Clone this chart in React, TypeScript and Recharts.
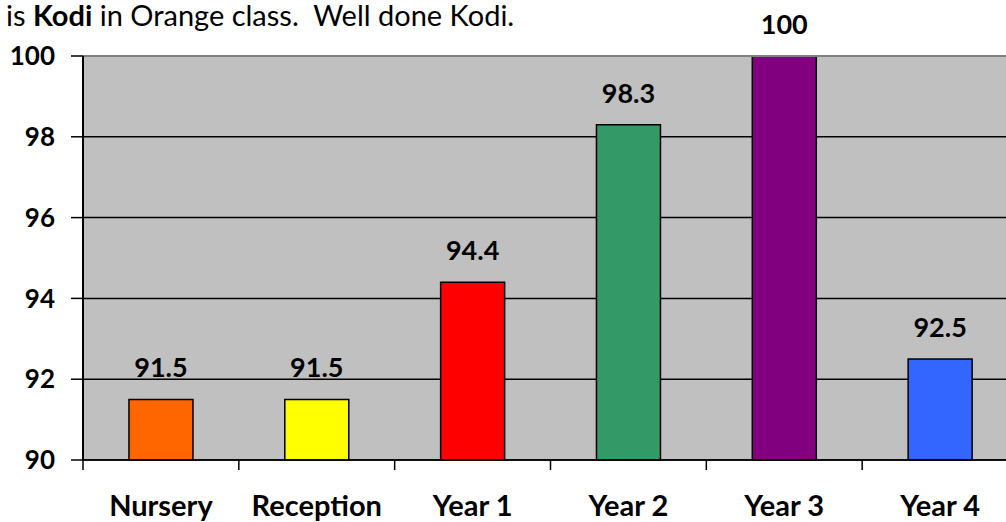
import React from 'react';
import { BarChart, Bar, XAxis, YAxis, CartesianGrid, Cell, LabelList, ReferenceLine } from 'recharts';

const categories = ['Nursery', 'Reception', 'Year 1', 'Year 2', 'Year 3', 'Year 4'];
const attendance = [91.5, 91.5, 94.4, 98.3, 100, 92.5];
const barColors = ['#FF6600', '#FFFF00', '#FF0000', '#339966', '#800080', '#3366FF'];
const yTicks = [90, 92, 94, 96, 98, 100];

const data = categories.map((name, i) => ({ name, value: attendance[i] }));

const font = 'Lato, Carlito, Calibri, sans-serif';
const yTickStyle = { fill: '#000', fontSize: 26, fontWeight: 700, fontFamily: font };
const labelStyle = { fill: '#000', fontSize: 27, fontWeight: 700, fontFamily: font };

// category label plus the small tick marks at the band edges
const CategoryTick = (props: any) => {
  const { x, y, payload, index } = props;
  const half = payload.offset ?? 0;
  const last = index === categories.length - 1;
  return (
    <g>
      <line x1={x - half} x2={x - half} y1={y} y2={y + 10} stroke="#000" strokeWidth={1.5} />
      {last && <line x1={x + half} x2={x + half} y1={y} y2={y + 10} stroke="#000" strokeWidth={1.5} />}
      <text x={x} y={y + 35} dy="0.71em" textAnchor="middle" fill="#000" fontSize={29} fontWeight={700} fontFamily={font}>
        {payload.value}
      </text>
    </g>
  );
};

export default function App() {
  return (
    <div style={{ position: 'absolute', left: 0, top: 0, width: 1006, height: 522, overflow: 'hidden', background: '#fff' }}>
      <div style={{ position: 'absolute', left: 6, top: 2, lineHeight: '26px', fontFamily: font, fontSize: 29, color: '#000', whiteSpace: 'pre' }}>
        is <b>Kodi</b> in Orange class.  Well done Kodi.
      </div>
      <BarChart
        width={1018}
        height={522}
        data={data}
        margin={{ top: 56, right: 0, left: 0, bottom: 0 }}
        barCategoryGap="29.5%"
      >
        <CartesianGrid vertical={false} stroke="#000" strokeWidth={1.5} fill="#C0C0C0" fillOpacity={1} />
        <XAxis
          dataKey="name"
          height={62}
          interval={0}
          tickSize={0}
          tickMargin={0}
          axisLine={{ stroke: '#000', strokeWidth: 1.5 }}
          tickLine={false}
          tick={<CategoryTick />}
        />
        <YAxis
          width={83}
          domain={[90, 100]}
          ticks={yTicks}
          interval={0}
          tickSize={12}
          tickMargin={16}
          axisLine={{ stroke: '#000', strokeWidth: 2 }}
          tickLine={{ stroke: '#000', strokeWidth: 1.5 }}
          tick={yTickStyle}
        />
        <ReferenceLine y={100} stroke="#808080" strokeWidth={2} />
        <Bar dataKey="value" stroke="#000" strokeWidth={1.5} isAnimationActive={false}>
          {data.map((d, i) => (
            <Cell key={d.name} fill={barColors[i]} />
          ))}
          <LabelList dataKey="value" position="top" offset={22} style={labelStyle} />
        </Bar>
      </BarChart>
    </div>
  );
}
